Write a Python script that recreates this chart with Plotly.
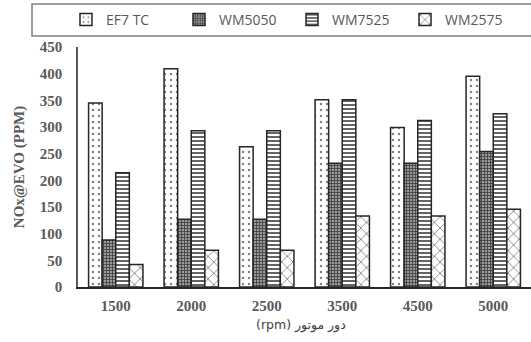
import plotly.graph_objects as go

categories = ["1500", "2000", "2500", "3500", "4500", "5000"]
ef7_tc = [345, 409, 263, 351, 299, 395]
wm5050 = [88, 127, 127, 232, 232, 254]
wm7525 = [214, 293, 293, 351, 312, 325]
wm2575 = [42, 69, 69, 133, 133, 146]

series_names = ["EF7 TC", "WM5050", "WM7525", "WM2575"]
y_ticks = [0, 50, 100, 150, 200, 250, 300, 350, 400, 450]

patterns = [
    dict(shape=".", fgcolor="#808080", bgcolor="white", size=6, solidity=0.12, fillmode="replace"),
    dict(shape="+", fgcolor="#3a3a3a", bgcolor="#9a9a9a", size=3, solidity=0.45, fillmode="replace"),
    dict(shape="-", fgcolor="#222222", bgcolor="white", size=4, solidity=0.35, fillmode="replace"),
    dict(shape="x", fgcolor="#222222", bgcolor="white", size=8, solidity=0.12, fillmode="replace"),
]

fig = go.Figure()
for name, vals, pat in zip(series_names, [ef7_tc, wm5050, wm7525, wm2575], patterns):
    fig.add_trace(go.Bar(
        x=categories, y=vals, name=name,
        marker=dict(color="white", pattern=pat, line=dict(color="#262626", width=1.5)),
    ))

W, H = 531, 342
L, R, T, B = 78, 0, 47, 55
pw = W - L - R
ph = H - T - B

def px_x(x):
    return (x - L) / pw

def px_y(y):
    return (H - B - y) / ph

tick_font = dict(family="Liberation Serif", size=15, color="#595959", weight="bold")

fig.update_layout(
    width=W, height=H,
    margin=dict(l=L, r=R, t=T, b=B),
    paper_bgcolor="white", plot_bgcolor="white",
    barmode="group", bargap=0.28, bargroupgap=0,
    showlegend=True,
    legend=dict(
        orientation="h", x=px_x(66), y=px_y(20), xanchor="left", yanchor="middle",
        font=dict(family="Open Sans, Liberation Sans", size=14, color="#595959"),
        bgcolor="rgba(0,0,0,0)", itemwidth=30,
        entrywidth=68, entrywidthmode="pixels",
    ),
    xaxis=dict(
        type="category", range=[-0.5, 5.5],
        showline=True, linecolor="#262626", linewidth=1.5,
        ticks="", showgrid=False,
        tickfont=tick_font,
        ticklabelstandoff=4,
    ),
    yaxis=dict(
        range=[0, 450], tickvals=y_ticks, ticktext=[str(v) for v in y_ticks],
        showline=True, linecolor="#595959", linewidth=1.5,
        ticks="", showgrid=False, zeroline=False,
        tickfont=tick_font,
        ticklabelstandoff=11,
        title=dict(text="NOx@EVO (PPM)", standoff=12,
                   font=dict(family="Liberation Serif", size=15, color="#595959", weight="bold")),
    ),
    shapes=[dict(type="rect", xref="paper", yref="paper",
                 x0=px_x(32), x1=px_x(540), y0=px_y(36), y1=px_y(4),
                 line=dict(color="#7f7f7f", width=1.5), fillcolor="rgba(0,0,0,0)", layer="below")],
    annotations=[dict(text="(rpm) دور موتور", xref="paper", yref="paper",
                      x=px_x(301), y=px_y(325), xanchor="center", yanchor="middle",
                      showarrow=False,
                      font=dict(family="DejaVu Sans", size=12.5, color="#404040"))],
)

fig.write_html("out.html")
